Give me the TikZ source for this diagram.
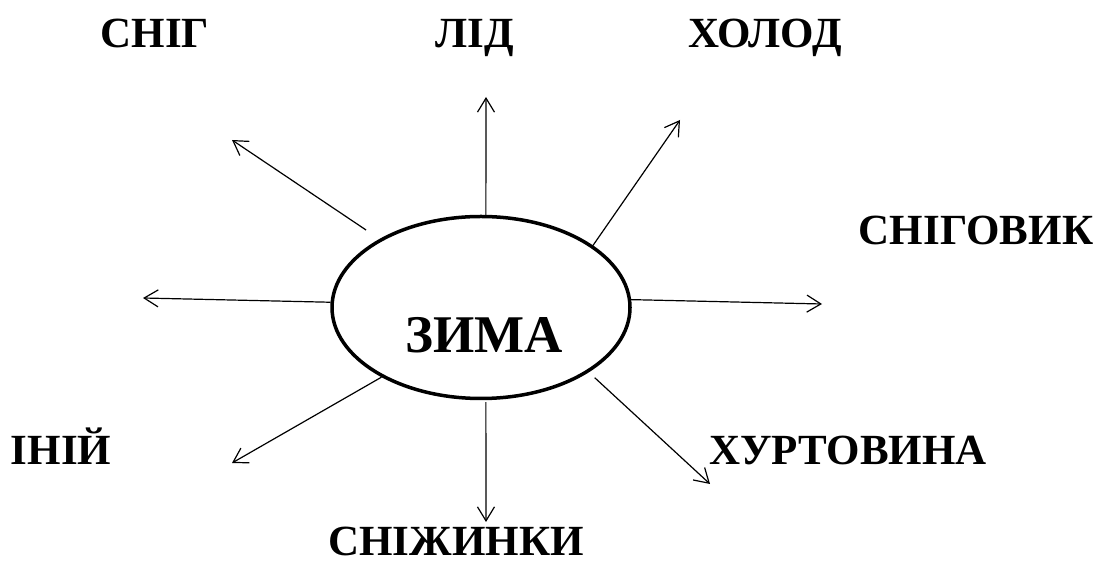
\documentclass[tikz,border=0pt]{standalone}
\usepackage{fontspec}
\setmainfont{Liberation Serif}
\usetikzlibrary{shapes.geometric, arrows.meta, positioning}
\tikzset{
  word/.style={font=\fontsize{21.5}{24}\selectfont\bfseries, anchor=base, inner sep=0pt},
  arr/.style={-{Straight Barb[length=7pt,width=8.5pt]}, line width=0.6pt},
}
\begin{document}
\begin{tikzpicture}[x=0.5pt,y=-0.5pt]
\useasboundingbox (0,0) rectangle (1096,565);
\node[draw, ellipse, line width=1.75pt, minimum width=149pt, minimum height=91pt, inner sep=0pt] (zima) at (481,307.5) {};
\node[word, font=\fontsize{26.5}{28}\selectfont\bfseries] (zimat) at (484,353) {ЗИМА};
\node[word] (snig) at (155,48) {СНІГ};
\node[word] (lid) at (475,48) {ЛІД};
\node[word] (kholod) at (765,48) {ХОЛОД};
\node[word] (snigovyk) at (976,245) {СНІГОВИК};
\node[word] (inij) at (61,465) {ІНІЙ};
\node[word] (khurt) at (848,465) {ХУРТОВИНА};
\node[word] (snizh) at (456,556) {СНІЖИНКИ};
\coordinate (t1) at (232,140);
\coordinate (t2) at (486,97);
\coordinate (t3) at (680,120);
\coordinate (t4) at (822,304);
\coordinate (t5) at (143,298);
\coordinate (t6) at (232,463);
\coordinate (t7) at (486,522);
\coordinate (t8) at (710,484);
\foreach \a/\t/\s in {146/t1/8pt, 87/t2/0pt, 29/t3/0pt, 3/t4/0pt, 178/t5/0pt, 215/t6/0pt, 273/t7/1pt, 329/t8/4pt}
  \draw[arr, shorten <=\s] (zima.\a) -- (\t);
\end{tikzpicture}
\end{document}
